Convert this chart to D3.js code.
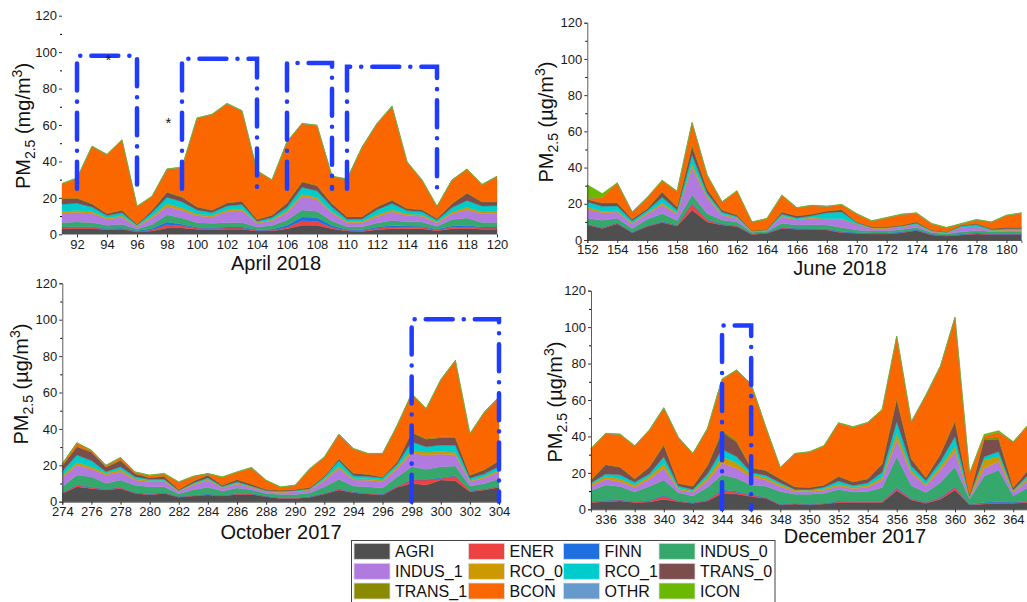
<!DOCTYPE html>
<html>
<head>
<meta charset="utf-8">
<script src="https://cdn.jsdelivr.net/npm/d3@7"></script>
<style>
  body { margin: 0; background: #fff; }
  svg { display: block; font-family: "Liberation Sans", Arial, sans-serif; }
</style>
</head>
<body>
<div id="chart"></div>
<script>
// source sectors, bottom to top of the stack
const sources = ["AGRI", "ENER", "FINN", "INDUS_0", "INDUS_1", "RCO_0", "RCO_1", "TRANS_0", "TRANS_1", "BCON", "OTHR", "ICON"];
const colors = ["#4f4f4f", "#ee4141", "#1f6fe0", "#36a86b", "#b07ade", "#cc9900", "#00cccc", "#7b4d4d", "#8a8a00", "#fa6600", "#6699cc", "#6bb800"];

// ---- April 2018 (day of year 91-120)
const aprDays = d3.range(91, 121);
const aprAGRI   = [3, 3.2, 3.2, 2.5, 2.8, 1.2, 1.8, 3.5, 3.5, 2.8, 2.7, 2.8, 2.8, 1.8, 1.8, 3, 5, 5, 3, 1.8, 1.5, 2.5, 3, 3, 3, 2, 3, 3.2, 2.8, 2.8];
const aprENER   = [.5, .6, .5, .4, .4, .2, .6, 1.8, 1.2, .5, .5, .6, .6, .3, .4, .8, 2.5, 2.2, .8, .4, .4, .8, 1, .9, .9, .5, .9, 1, .6, .6];
const aprFINN   = [.5, .5, .4, .3, .3, .5, .8, 1.5, .8, .6, .5, .6, .6, .4, .6, 1.2, 2, 2, 1, .5, .6, .7, .8, .6, .5, .4, .7, .8, .6, .6];
const aprINDUS0 = [2.5, 2.5, 2.4, 1.8, 2, 1, 2.2, 4, 3.5, 2.5, 2.3, 2.4, 2.5, 1.5, 2, 2.8, 3.8, 3.5, 2.5, 1.5, 1.6, 2.2, 2.8, 2.4, 2.3, 1.5, 3.5, 4, 2.5, 2.5];
const aprINDUS1 = [5, 5.2, 5, 3.2, 3.8, 1.2, 3.5, 4.5, 4.2, 3.8, 3.5, 6, 6.5, 2, 2.6, 4, 7.5, 6.5, 4.2, 2.3, 2.3, 3.5, 4.8, 3.4, 3.2, 1.8, 3.2, 4.5, 4.8, 5];
const aprRCO0   = [1, 1.1, 1, .8, .9, .4, 1, 1.5, 1.4, 1, .9, 1, 1, .5, .6, 1, 1.2, 1.2, .8, .6, .6, 1, 1.1, .9, .8, .6, 1, 1.3, 1, 1];
const aprRCO1   = [4, 4, 2.5, 1.3, 1.6, .6, 2, 3.6, 3.3, 2.2, 1.6, 2.2, 2.4, .7, 1.2, 2, 3.8, 3.5, 2.7, 1.2, 1.4, 2.8, 3.4, 1.8, 1.7, 1, 2.4, 3.8, 3.2, 3.2];
const aprTRANS0 = [3, 2.7, 1.7, 1, 1.4, .5, 1.3, 2.7, 2.5, 1.6, 1.2, 1.6, 1.7, .9, 1.3, 2.4, 2.9, 2.8, 1.8, 1.3, 1.2, 1.5, 1.8, 1.1, 1.1, .9, 2.1, 4, 2.2, 2];
const aprTRANS1 = [.3, .3, .3, .2, .2, .1, .2, .3, .3, .2, .2, .2, .2, .1, .1, .2, .3, .3, .2, .1, .1, .2, .2, .2, .2, .1, .2, .3, .3, .3];
const aprBCON   = [7.9, 10.6, 31.2, 32.2, 38.3, 9.5, 7.3, 12.3, 16, 48.5, 52.3, 54.3, 49.4, 26.5, 19.1, 33.3, 31.7, 32.7, 14.7, 20.5, 38, 45.5, 51.3, 25.4, 16, 6.4, 12.7, 12.8, 9.2, 13.7];
const aprOTHR   = [.1, .1, .1, .1, .1, .1, .1, .1, .1, .1, .1, .1, .1, .1, .1, .1, .1, .1, .1, .1, .1, .1, .1, .1, .1, .1, .1, .1, .1, .1];
const aprICON   = [.2, .2, .2, .2, .2, .2, .2, .2, .2, .2, .2, .2, .2, .2, .2, .2, .2, .2, .2, .2, .2, .2, .2, .2, .2, .2, .2, .2, .2, .2];
// dash-dot boxes: [from day, to day, top, bottom]
const aprBoxes = [[92, 96, 98, 25], [99, 104, 96.3, 25], [106, 109, 94, 25], [110, 116, 92, 25]];
const aprStars = [[94.1, 98], [98.1, 63.5]];

// ---- June 2018 (day 152-181)
const junDays = d3.range(152, 182);
const junAGRI   = [8.3, 6.4, 9, 4, 7.4, 9.6, 7.7, 16.5, 10, 8.3, 7.4, 3.1, 3.7, 6.4, 6, 5.9, 5.5, 4, 3.7, 3.3, 3.3, 4, 5.2, 2.8, 2.2, 2.8, 3.3, 3.1, 3.1, 3.1];
const junENER   = [.3, .3, .3, .2, .3, .4, .3, 3.5, 1, .3, .3, .2, .2, .3, .2, .2, .3, .3, .2, .2, .2, .2, .2, .2, .1, .2, .2, .1, .1, .1];
const junFINN   = [.2, .2, .2, .2, .2, .2, .2, .5, .3, .2, .2, .2, .2, .3, .3, .3, .4, .4, .3, .3, .3, .3, .3, .3, .3, .3, .4, .4, .4, .4];
const junINDUS0 = [3.2, 4, 2.5, 2, 3.5, 4.5, 2.5, 4.5, 3.4, 2.3, 2, .8, .8, 2.2, 1.8, 2, 2.1, 2.2, 1.3, 1.2, 1.2, 1.3, 1.2, .8, .8, 1.2, 1.3, 1.1, 1.2, 1.2];
const junINDUS1 = [5, 4.2, 3.4, 2.5, 3, 4.6, 3.5, 15, 8.7, 2.5, 2, .4, .5, 3.7, 2.7, 3.6, 3.1, 4.5, 3, 1.4, 1.4, 1.4, 1.5, .6, .4, 2.5, 2.1, .5, .6, .6];
const junRCO0   = [1.2, .8, .7, .5, .7, 1.2, .8, 2, 1, .6, .5, .2, .2, .5, .4, .4, .3, .3, .3, .3, .3, .3, .3, .2, .2, .2, .2, .2, .3, .3];
const junRCO1   = [2.8, 2.7, 2.7, 1.2, 1.2, 3.1, 1.5, 5, 1.5, 1.2, .6, .1, .1, 1, .8, 1, 3.4, 3.8, .8, .2, .2, .3, .6, .3, .3, .6, 1, .4, .5, .5];
const junTRANS0 = [1.3, 1.8, 1.7, 1, 1, 2.9, 1.7, 4.6, 2.3, 1.1, .8, .2, .2, 1.1, 1.1, .9, .9, 1.2, .4, .4, .4, .4, .7, .3, .3, .4, .6, .5, .7, .7];
const junTRANS1 = [.2, .2, .2, .2, .2, .2, .2, 1.8, .3, .1, .1, 0, 0, .1, .1, .1, .2, .2, .1, .1, .1, .1, .1, 0, 0, .1, .1, .1, .1, .1];
const junBCON   = [.5, 2.8, 10.7, 3.5, 5.8, 6.1, 8.3, 11.3, 7.3, 4.3, 13.1, 4.6, 5.8, 9, 4.3, 4.6, 2.3, 2.5, 4.3, 3, 4.8, 5.8, 4.7, 3.4, 2.1, .6, 1.9, 3.4, 6.5, 7.8];
const junOTHR   = [.1, .1, .1, .1, .1, .1, .1, .1, .1, .1, .1, .1, .1, .1, .1, .1, .1, .1, .1, .1, .1, .1, .1, .1, .1, .1, .1, .1, .1, .1];
const junICON   = [7.5, 2.2, .2, .2, .2, .2, .2, .2, .2, .2, .2, .2, .2, .2, .2, .2, .2, .2, .2, .2, .2, .2, .2, .2, .2, .2, .2, .2, .2, .2];

// ---- October 2017 (day 274-304)
const octDays = d3.range(274, 305);
const octAGRI   = [4.5, 8.2, 7.3, 6.4, 7.3, 4.6, 3.7, 4.6, 2.4, 3.1, 3.7, 3.1, 4, 4, 2.7, 1.8, 1.8, 2.4, 4.2, 6.4, 4.9, 4.2, 3.7, 7.9, 10.1, 9.2, 11.9, 11.5, 5.5, 6.4, 7.9];
const octENER   = [.3, .8, .5, .4, .5, .3, .3, .3, .3, .3, .3, .3, .3, .3, .2, .2, .2, .2, .3, .5, .3, .3, .3, .5, 1.8, 2.7, .9, 2.6, .4, .4, .5];
const octFINN   = [.2, .3, .3, .2, .2, .2, .2, .2, .1, .2, .2, .2, .2, .2, .2, .2, .2, .2, .2, .2, .2, .2, .2, .2, .3, .3, .3, .3, .2, .2, .2];
const octINDUS0 = [3.2, 5.4, 5.6, 3.1, 3.9, 4, 4, 3.1, 1.6, 3, 3.7, 2.3, 3, 2, 1.4, 1.7, 1.8, 2, 3.5, 5.2, 3.2, 3.5, 3.3, 5, 7, 5.6, 6.1, 5.2, 2.5, 3, 4];
const octINDUS1 = [5, 5.4, 4.3, 4.6, 4.6, 2.8, 2.8, 2.8, 1.2, 2.6, 4, 1.6, 2.2, 1.4, 1, 1.2, 1.5, 1.6, 3.3, 6, 3.3, 3.6, 3.5, 4.5, 7.4, 7.8, 7, 6, 2.5, 3, 3.8];
const octRCO0   = [1, 1.4, 1.2, 1, 1.2, .8, .6, .6, .3, .5, .5, .4, .5, .4, .3, .3, .3, .3, .7, 1.2, .8, .8, .8, 1, 1.8, 1.6, 1.5, 1.5, .6, .8, 1];
const octRCO1   = [2.5, 4.1, 3.4, .8, 1.5, 1, .8, .8, .3, .6, .8, .4, .7, .3, .3, .3, .4, .4, 1.3, 3, 1.5, 1.3, 1.3, 1.5, 4.6, 3, 3.4, 3.9, 1.2, 1.5, 2];
const octTRANS0 = [3, 4.6, 4.6, 2.4, 3.4, 1.6, .8, 1.5, .5, 1, 1.3, .8, 1.3, 1, .6, .6, .5, .7, .5, 1, 1.5, 1.1, .5, 1.2, 5, 4.1, 4.1, 4.2, 1.6, 2.2, 3];
const octTRANS1 = [.3, .3, .3, .3, .3, .3, .2, .2, .1, .2, .2, .1, .1, .1, .1, .1, .1, .1, .1, .3, .2, .2, .1, .2, .5, .5, .5, .5, .2, .3, .5];
const octBCON   = [.7, 1.7, .6, .6, 1.2, .6, 1, 1.2, 3.9, 2.3, .6, 4.2, 3.9, 8.9, 4.8, 1.5, 2.1, 10.1, 10.3, 13.1, 13.1, 11.1, 12.6, 19.7, 20.7, 16.2, 31.2, 41.8, 22.5, 31.4, 34.5];
const octOTHR   = [.1, .1, .1, .1, .1, .1, .1, .1, .1, .1, .1, .1, .1, .1, .1, .1, .1, .1, .1, .1, .1, .1, .1, .1, .1, .1, .1, .1, .1, .1, .1];
const octICON   = [.2, .2, .2, .2, .2, .2, .2, .2, .2, .2, .2, .2, .2, .2, .2, .2, .2, .2, .2, .2, .2, .2, .2, .2, .2, .2, .2, .2, .2, .2, .2];
const octBoxes = [[298, 304, 100.2, 0]];

// ---- December 2017 (day 335-365)
const decDays = d3.range(335, 366);
const decAGRI   = [3.8, 4.2, 4.6, 3.7, 4, 5.5, 4.2, 3.3, 4.6, 8.8, 8.4, 7, 6, 2.4, 2.9, 2.4, 2.9, 3.7, 3.7, 3.7, 3.7, 10.3, 5.1, 3.3, 5.5, 10.6, 2.4, 2.9, 3.3, 3.3, 3.7];
const decENER   = [.3, .5, .5, .4, .6, 1.8, .3, .2, .5, 1.5, 1, .7, .4, .2, .2, .2, .2, .5, .3, .3, .3, 1.2, .6, .4, .8, 1.5, .2, .3, .5, .3, .5];
const decFINN   = [.2, .3, .2, .2, .3, .4, .2, .2, .2, .5, .5, .3, .3, .2, .2, .2, .2, .3, .3, .3, .3, .6, .3, .2, .3, .5, .2, .5, .5, .3, .3];
const decINDUS0 = [6, 8.4, 7.2, 5.4, 7.6, 8.4, 4.5, 3.6, 6.8, 8.1, 7.1, 5.4, 6, 7, 5, 5.5, 5.5, 6.4, 5.2, 5.5, 7.6, 16.8, 7, 5.3, 8.1, 10.8, 2.8, 14.6, 17.3, 3.5, 7.4];
const decINDUS1 = [2.2, 3.1, 2.8, 2.4, 4, 6.5, 1.6, 2, 3.5, 6.5, 5.5, 4.5, 3.4, 2.7, 1.5, 1.4, 1.6, 1.9, 1.8, 2.3, 4.2, 9.1, 6.8, 3.8, 6.9, 8.3, .8, 4.2, 4.6, 1.8, 4.2];
const decRCO0   = [1.2, 1.5, 1.5, 1.3, 1.4, 2.5, .8, .8, 1.8, 3.5, 3, 1.5, 1.3, 1.1, .8, .8, .9, .9, .9, 1, 1.5, 3.8, 1.5, .9, 2, 2.7, .4, 4.5, 2.8, .8, 1.2];
const decRCO1   = [.8, 1.4, 2.1, 1.5, 1.5, 3.8, 1.2, .8, 2, 4, 3.5, .8, 1.3, 1, .3, .3, .8, 1.8, .9, 1.4, 2.8, 6.4, 2.5, 1.8, 2.7, 5.6, .3, 1.8, 2.7, .6, 1.4];
const decTRANS0 = [1.6, 5, 4.2, 1.8, 3.7, 6.3, 1.3, 1.7, 4.5, 9.5, 8, 2.5, 2.6, 2.1, 1.4, 1.1, 1.1, 2.5, 1.9, 2.2, 4.5, 12, 3.8, 1.6, 3.9, 8.2, .7, 9.2, 6.8, 1.3, 2.6];
const decTRANS1 = [.3, .3, .3, .3, .3, .7, .2, .2, .5, 1.2, 1, .4, .3, .3, .2, .2, .2, .3, .2, .3, .4, 1.3, .4, .3, .6, .8, .1, 1, 1.5, .2, .3];
const decBCON   = [16.8, 16.8, 17.7, 17.7, 19.9, 19.7, 25, 17.7, 19.8, 27.7, 38.3, 45.5, 23.5, 5.8, 18, 19.3, 21.3, 29, 29.9, 30.5, 29.3, 33.4, 19.9, 44.9, 47.7, 56.2, 11.6, 1.3, 2.3, 24.8, 24.4];
const decOTHR   = [.1, .1, .1, .1, .1, .1, .1, .1, .1, .1, .1, .1, .1, .1, .1, .1, .1, .1, .1, .1, .1, .1, .1, .1, .1, .1, .1, .1, .1, .1, .1];
const decICON   = [.2, .2, .2, .2, .2, .2, .2, .2, .2, .2, .2, .2, .2, .2, .2, .2, .2, .2, .2, .2, .2, .2, .2, .2, .2, .2, .2, .8, .8, .2, .2];
const decBoxes = [[344, 346, 100.9, 0]];

const yTicks = [0, 20, 40, 60, 80, 100, 120];
const yMinor = [10, 30, 50, 70, 90, 110];

const panels = [
  { name: "April 2018", unit: "mg", days: aprDays,
    series: [aprAGRI, aprENER, aprFINN, aprINDUS0, aprINDUS1, aprRCO0, aprRCO1, aprTRANS0, aprTRANS1, aprBCON, aprOTHR, aprICON],
    xr: [62, 497], yr: [234.3, 15.7], ticks: d3.range(92, 121, 2), domain: false,
    title: [276, 263], yLab: [30, 126], boxes: aprBoxes, stars: aprStars },
  { name: "June 2018", unit: "µg", days: junDays,
    series: [junAGRI, junENER, junFINN, junINDUS0, junINDUS1, junRCO0, junRCO1, junTRANS0, junTRANS1, junBCON, junOTHR, junICON],
    xr: [587.3, 1021.4], yr: [240, 22.7], ticks: d3.range(152, 181, 2), domain: true,
    title: [840, 268], yLab: [553, 122], boxes: [], stars: [] },
  { name: "October 2017", unit: "µg", days: octDays,
    series: [octAGRI, octENER, octFINN, octINDUS0, octINDUS1, octRCO0, octRCO1, octTRANS0, octTRANS1, octBCON, octOTHR, octICON],
    xr: [62.3, 499], yr: [501.7, 283.3], ticks: d3.range(274, 305, 2), domain: true,
    title: [281, 532], yLab: [28, 384], boxes: octBoxes, stars: [] },
  { name: "December 2017", unit: "µg", days: decDays,
    series: [decAGRI, decENER, decFINN, decINDUS0, decINDUS1, decRCO0, decRCO1, decTRANS0, decTRANS1, decBCON, decOTHR, decICON],
    xr: [591, 1027.8], yr: [509.3, 290.7], ticks: d3.range(336, 365, 2), domain: true,
    title: [855, 536], yLab: [561.5, 402], boxes: decBoxes, stars: [] }
];

const width = 1027;
const height = 602;

const svg = d3.select("#chart").append("svg")
  .attr("width", width)
  .attr("height", height);

const color = d3.scaleOrdinal().domain(sources).range(colors);
const stack = d3.stack().keys(sources);

panels.forEach(p => {
  // table built from the named arrays
  const rows = p.days.map((day, i) => {
    const r = { day };
    sources.forEach((s, k) => { r[s] = p.series[k][i]; });
    return r;
  });

  const x = d3.scaleLinear().domain(d3.extent(p.days)).range(p.xr);
  const y = d3.scaleLinear().domain([0, 120]).range(p.yr);
  const g = svg.append("g");

  const area = d3.area()
    .x(d => x(d.data.day))
    .y0(d => y(d[0]))
    .y1(d => y(d[1]));

  g.selectAll("path.layer")
    .data(stack(rows))
    .join("path")
    .attr("class", "layer")
    .attr("fill", d => color(d.key))
    .attr("stroke", d => color(d.key))
    .attr("stroke-width", 0.4)
    .attr("d", area);

  // axes
  const yAxis = g.append("g")
    .attr("transform", `translate(${p.xr[0]},0)`)
    .call(d3.axisLeft(y).tickValues(yTicks).tickSize(3).tickPadding(2));
  g.append("g")
    .attr("transform", `translate(${p.xr[0]},0)`)
    .call(d3.axisLeft(y).tickValues(yMinor).tickSize(2).tickFormat(""))
    .call(a => a.select(".domain").remove());
  const xAxis = g.append("g")
    .attr("transform", `translate(0,${p.yr[0]})`)
    .call(d3.axisBottom(x).tickValues(p.ticks).tickSize(3).tickPadding(2).tickFormat(d3.format("d")));

  [yAxis, xAxis].forEach(a => {
    a.selectAll("text").attr("font-size", 13).attr("font-family", "Liberation Sans, Arial, sans-serif").attr("fill", "#1a1a1a");
    a.selectAll("line").attr("stroke", "#333");
    a.select(".domain").attr("stroke", "#333").attr("stroke-width", 0.8);
  });
  if (!p.domain) {
    yAxis.select(".domain").remove();
    xAxis.select(".domain").remove();
  }

  // x title
  g.append("text")
    .attr("x", p.title[0])
    .attr("y", p.title[1])
    .attr("dy", "0.35em")
    .attr("text-anchor", "middle")
    .attr("font-size", 20)
    .attr("fill", "#111")
    .text(p.name);

  // y title: PM2.5 (µg/m3)
  const yl = g.append("text")
    .attr("transform", `translate(${p.yLab[0]},${p.yLab[1]}) rotate(-90)`)
    .attr("text-anchor", "middle")
    .attr("font-size", 20)
    .attr("fill", "#111");
  yl.append("tspan").text("PM");
  yl.append("tspan").attr("font-size", 14).attr("dy", 5).text("2.5");
  yl.append("tspan").attr("dy", -5).text(` (${p.unit}/m`);
  yl.append("tspan").attr("font-size", 14).attr("dy", -8).text("3");
  yl.append("tspan").attr("dy", 8).text(")");

  // dash-dot highlight boxes
  g.selectAll("path.box")
    .data(p.boxes)
    .join("path")
    .attr("class", "box")
    .attr("fill", "none")
    .attr("stroke", "#1f3cff")
    .attr("stroke-width", 4.5)
    .attr("stroke-linecap", "round")
    .attr("stroke-dasharray", "27 11 0.1 11")
    .attr("d", b => d3.line()([
      [x(b[0]), y(b[3])], [x(b[0]), y(b[2])], [x(b[1]), y(b[2])], [x(b[1]), y(b[3])]
    ]));

  g.selectAll("text.star")
    .data(p.stars)
    .join("text")
    .attr("class", "star")
    .attr("x", s => x(s[0]))
    .attr("y", s => y(s[1]))
    .attr("dy", "0.6em")
    .attr("text-anchor", "middle")
    .attr("font-size", 15)
    .attr("fill", "#111")
    .text("*");
});

// legend (4 columns x 3 rows)
const legendCols = [354, 468.5, 563.5, 659];
const legendRows = [551.3, 571.3, 591];
const legend = svg.append("g");
legend.append("rect")
  .attr("x", 351.5)
  .attr("y", 540.5)
  .attr("width", 423.5)
  .attr("height", 80)
  .attr("fill", "#fff")
  .attr("stroke", "#444")
  .attr("stroke-width", 1);

const items = legend.selectAll("g.item")
  .data(sources)
  .join("g")
  .attr("class", "item")
  .attr("transform", (d, i) => `translate(${legendCols[i % 4]},${legendRows[Math.floor(i / 4)]})`);

items.append("rect")
  .attr("x", 0)
  .attr("y", -8)
  .attr("width", 36)
  .attr("height", 16)
  .attr("fill", d => color(d))
  .attr("stroke", "#ddd")
  .attr("stroke-width", 0.8);

items.append("text")
  .attr("x", 41)
  .attr("dy", "0.36em")
  .attr("font-size", 16)
  .attr("fill", "#111")
  .text(d => d);
</script>
</body>
</html>
